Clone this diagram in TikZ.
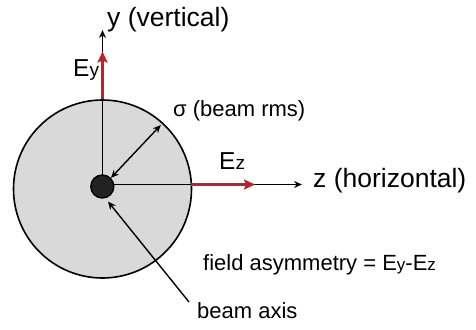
\documentclass[tikz,border=0pt]{standalone}
\usepackage{fontspec}
\setmainfont{Liberation Sans}
\usetikzlibrary{arrows.meta}
\definecolor{efield}{RGB}{192,32,40}
\definecolor{beamgray}{RGB}{217,217,217}
\definecolor{coredark}{RGB}{34,34,34}
\newcommand\mysub[1]{{\fontsize{19}{19}\selectfont #1}}
\newcommand\mysubs[1]{{\fontsize{17}{17}\selectfont #1}}
\begin{document}
\begin{tikzpicture}[x=1pt,y=-1pt,
 axisline/.style={line width=1.4pt,-{Stealth[length=8pt,width=7pt]}},
 fieldarrow/.style={line width=2.5pt,draw=efield,-{Stealth[length=11pt,width=10pt,inset=2pt]}},
 pointer/.style={line width=1.4pt,-{Stealth[length=8pt,width=7pt]}},
 lbl/.style={inner sep=0pt,anchor=base west,font=\fontsize{22}{24}\selectfont},
 biglbl/.style={inner sep=0pt,anchor=base west,font=\fontsize{26.5}{28}\selectfont},
 elbl/.style={inner sep=0pt,anchor=base west,font=\fontsize{24.5}{27}\selectfont}]
\useasboundingbox (0,0) rectangle (476,329);
% beam cross-section
\node[circle,draw,line width=1.6pt,fill=beamgray,minimum size=178pt,inner sep=0pt] (beam) at (102.5,189) {};
\coordinate (O) at (102.5,184.5);
\coordinate (ytip) at (102.5,30);
\coordinate (ztip) at (302,184.5);
\coordinate (eyend) at (102.5,51.5);
\coordinate (ezstart) at (191.4,184.5);
\coordinate (ezend) at (255,184.5);
\coordinate (sig) at (160.8,125);
\coordinate (axtip) at (108,201.5);
\coordinate (axtail) at (189,302);
% axes
\draw[axisline] (O) -- (ytip);
\draw[axisline] (O) -- (ztip);
% fields
\draw[fieldarrow] (beam.north) -- (eyend);
\draw[fieldarrow] (ezstart) -- (ezend);
% beam core
\node[circle,draw,line width=1.4pt,fill=coredark,minimum size=23pt,inner sep=0pt] (core) at (102.3,186.5) {};
% sigma
\draw[line width=1.4pt,{Stealth[length=8pt,width=7pt]}-{Stealth[length=8pt,width=7pt]}] (core.45) -- (sig);
% beam axis pointer
\draw[pointer] (axtail) -- (axtip);
% labels
\node[biglbl] (ylab) at (107,27) {y (vertical)};
\node[biglbl] (zlab) at (313,187) {z (horizontal)};
\node[elbl] (eylab) at (73,77) {E\mysub{y}};
\node[elbl] (ezlab) at (219,169) {E\mysub{z}};
\node[lbl] (siglab) at (173,116) {σ (beam rms)};
\node[lbl] (asym) at (203,270) {field asymmetry = E\mysubs{y}-E\mysubs{z}};
\node[lbl] (axis) at (197,318) {beam axis};
\end{tikzpicture}
\end{document}
